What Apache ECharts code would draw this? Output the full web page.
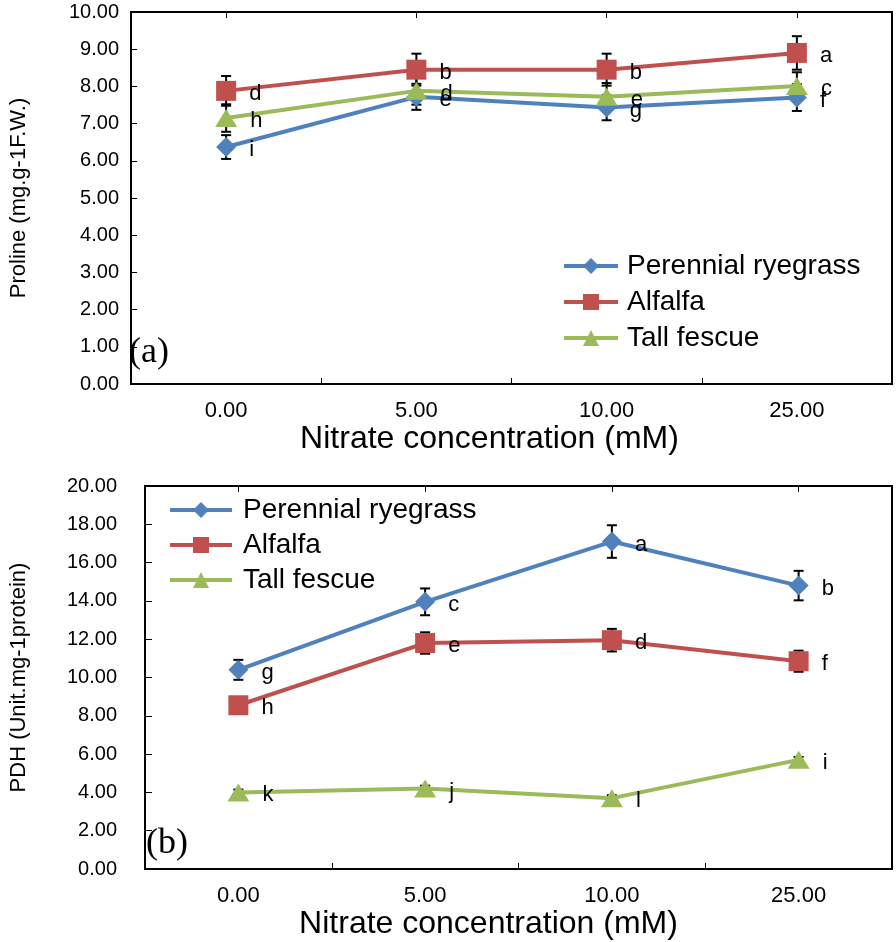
<!DOCTYPE html>
<html>
<head>
<meta charset="utf-8">
<script src="https://cdn.jsdelivr.net/npm/echarts@6/dist/echarts.min.js"></script>
<style>html,body{margin:0;padding:0;background:#fff;}#c{width:896px;height:942px;}</style>
</head>
<body>
<div id="c"></div>
<script>
const categories = ['0.00', '5.00', '10.00', '25.00'];
const seriesNames = ['Perennial ryegrass', 'Alfalfa', 'Tall fescue'];

// Panel (a): Proline
const ryegrassProline = [6.37, 7.72, 7.43, 7.70];
const ryegrassProlineErr = [0.32, 0.35, 0.34, 0.36];
const alfalfaProline = [7.88, 8.45, 8.45, 8.90];
const alfalfaProlineErr = [0.40, 0.43, 0.43, 0.45];
const fescueProline = [7.15, 7.88, 7.72, 8.01];
const fescueProlineErr = [0.37, 0.37, 0.37, 0.37];
const ryegrassProlineLetters = ['i', 'e', 'g', 'f'];
const alfalfaProlineLetters = ['d', 'b', 'b', 'a'];
const fescueProlineLetters = ['h', 'd', 'e', 'c'];

// Panel (b): PDH
const ryegrassPDH = [10.40, 13.95, 17.10, 14.80];
const ryegrassPDHErr = [0.52, 0.70, 0.85, 0.77];
const alfalfaPDH = [8.55, 11.80, 11.95, 10.85];
const alfalfaPDHErr = [0.37, 0.56, 0.59, 0.55];
const fescuePDH = [4.00, 4.20, 3.70, 5.70];
const fescuePDHErr = [0.15, 0.15, 0.15, 0.15];
const ryegrassPDHLetters = ['g', 'c', 'a', 'b'];
const alfalfaPDHLetters = ['h', 'e', 'd', 'f'];
const fescuePDHLetters = ['k', 'j', 'l', 'i'];

const colors = ['#4F81BD', '#C0504D', '#9BBB59'];
const symbols = ['diamond', 'rect', 'triangle'];
const symbolSizes = [[20, 20], [20, 20], [22, 18]];
const FONT = '"Liberation Sans", Arial, sans-serif';

function lineSeries(i, data, letters, axisIdx) {
  return {
    type: 'line', name: seriesNames[i],
    xAxisIndex: axisIdx, yAxisIndex: axisIdx,
    data: data,
    symbol: symbols[i], symbolSize: symbolSizes[i],
    lineStyle: { color: colors[i], width: 4 },
    itemStyle: { color: colors[i] },
    z: 3,
    label: {
      show: true, position: 'right', distance: 13, offset: [0, 3],
      color: '#000', fontSize: 22, fontFamily: FONT,
      formatter: p => letters[p.dataIndex]
    }
  };
}

function errSeries(values, errs, axisIdx) {
  return {
    type: 'custom', xAxisIndex: axisIdx, yAxisIndex: axisIdx, z: 2,
    silent: true,
    data: values.map((v, k) => [k, v, errs[k]]),
    encode: { x: 0, y: 1 },
    renderItem: function (params, api) {
      const x = api.value(0), y = api.value(1), e = api.value(2);
      const lo = api.coord([x, y - e]);
      const hi = api.coord([x, y + e]);
      const w = 5;
      const st = { stroke: '#000', lineWidth: 2 };
      return {
        type: 'group', children: [
          { type: 'line', shape: { x1: lo[0], y1: lo[1], x2: hi[0], y2: hi[1] }, style: st },
          { type: 'line', shape: { x1: lo[0] - w, y1: lo[1], x2: lo[0] + w, y2: lo[1] }, style: st },
          { type: 'line', shape: { x1: hi[0] - w, y1: hi[1], x2: hi[0] + w, y2: hi[1] }, style: st }
        ]
      };
    }
  };
}

function mainXAxis(gridIndex, nameShift) {
  return {
    type: 'category', gridIndex: gridIndex, data: categories, boundaryGap: true,
    axisLine: { lineStyle: { color: '#000', width: 2 } },
    axisTick: { show: true, inside: true, interval: 0, length: 6, lineStyle: { color: '#000', width: 1 } },
    axisLabel: { color: '#000', fontSize: 22, fontFamily: FONT, margin: 16, interval: 0 },
    name: 'Nitrate concentration (mM)', nameLocation: 'middle', nameGap: 39,
    nameTextStyle: { color: '#000', fontSize: 32, fontFamily: FONT, padding: [0, nameShift, 0, 0] }
  };
}
function centerTickAxis(gridIndex) {
  return {
    type: 'category', gridIndex: gridIndex, data: categories, boundaryGap: true,
    axisLine: { show: false },
    axisTick: { show: true, inside: true, alignWithLabel: true, interval: 0, length: 6, lineStyle: { color: '#000', width: 1 } },
    axisLabel: { show: false }
  };
}
function legendOpt(left, top, itemWidth, gap, textPad) {
  return {
    orient: 'vertical', left: left, top: top, padding: 0,
    itemWidth: itemWidth, itemHeight: 20, itemGap: gap,
    lineStyle: { width: 4 },
    data: seriesNames,
    textStyle: { color: '#000', fontSize: 28, fontFamily: FONT, padding: [0, 0, 0, textPad] },
    selectedMode: false
  };
}

const chart = echarts.init(document.getElementById('c'), null, { renderer: 'canvas' });
chart.setOption({
  animation: false,
  backgroundColor: '#fff',
  grid: [
    { left: 123, top: 12, width: 769, height: 372, show: true, borderColor: '#000', borderWidth: 2, backgroundColor: 'transparent' },
    { left: 139, top: 486, width: 753, height: 383, show: true, borderColor: '#000', borderWidth: 2, backgroundColor: 'transparent' }
  ],
  xAxis: [mainXAxis(0, 44), mainXAxis(1, 60), centerTickAxis(0), centerTickAxis(1)],
  yAxis: [
    {
      type: 'value', gridIndex: 0, min: 0, max: 10, interval: 1,
      axisLine: { show: true, lineStyle: { color: '#000', width: 2 } },
      axisTick: { show: true, inside: true, length: 6, lineStyle: { color: '#000' } },
      splitLine: { show: false },
      axisLabel: { color: '#000', fontSize: 20, fontFamily: FONT, margin: 12, formatter: v => v.toFixed(2) },
      name: 'Proline (mg.g-1F.W.)', nameLocation: 'middle', nameGap: 101,
      nameTextStyle: { color: '#000', fontSize: 22, fontFamily: FONT }
    },
    {
      type: 'value', gridIndex: 1, min: 0, max: 20, interval: 2,
      axisLine: { show: true, lineStyle: { color: '#000', width: 2 } },
      axisTick: { show: true, inside: true, length: 7, lineStyle: { color: '#000' } },
      splitLine: { show: false },
      axisLabel: { color: '#000', fontSize: 20, fontFamily: FONT, margin: 28, formatter: v => v.toFixed(2) },
      name: 'PDH (Unit.mg-1protein)', nameLocation: 'middle', nameGap: 115,
      nameTextStyle: { color: '#000', fontSize: 22, fontFamily: FONT }
    }
  ],
  legend: [
    legendOpt(562, 252, 54, 8, 4),
    legendOpt(168, 496, 62, 7, 6)
  ],
  graphic: [
    { type: 'text', left: 129, top: 335, style: { text: '(a)', font: '36px "Liberation Serif", "Times New Roman", serif', fill: '#000' } },
    { type: 'text', left: 146, top: 826, style: { text: '(b)', font: '36px "Liberation Serif", "Times New Roman", serif', fill: '#000' } }
  ],
  series: [
    errSeries(ryegrassProline, ryegrassProlineErr, 0),
    errSeries(alfalfaProline, alfalfaProlineErr, 0),
    errSeries(fescueProline, fescueProlineErr, 0),
    lineSeries(0, ryegrassProline, ryegrassProlineLetters, 0),
    lineSeries(1, alfalfaProline, alfalfaProlineLetters, 0),
    lineSeries(2, fescueProline, fescueProlineLetters, 0),
    errSeries(ryegrassPDH, ryegrassPDHErr, 1),
    errSeries(alfalfaPDH, alfalfaPDHErr, 1),
    errSeries(fescuePDH, fescuePDHErr, 1),
    lineSeries(0, ryegrassPDH, ryegrassPDHLetters, 1),
    lineSeries(1, alfalfaPDH, alfalfaPDHLetters, 1),
    lineSeries(2, fescuePDH, fescuePDHLetters, 1)
  ]
});
</script>
</body>
</html>
